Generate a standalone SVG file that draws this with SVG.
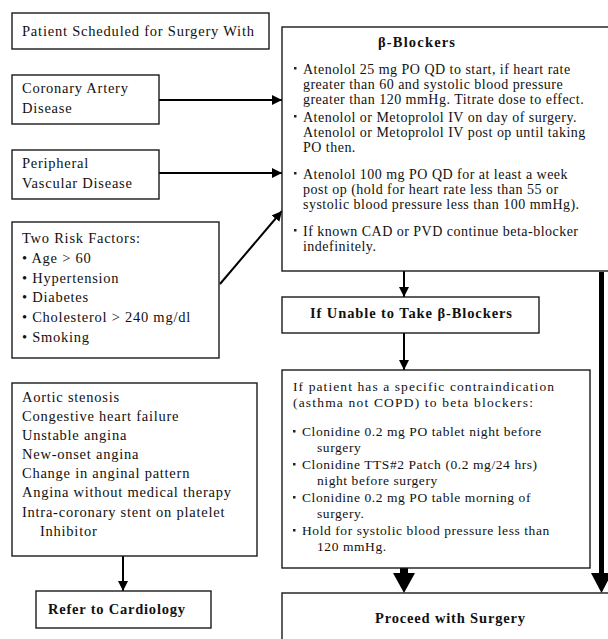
<svg xmlns="http://www.w3.org/2000/svg" width="608" height="639" viewBox="0 0 608 639">
<defs>
<style>
.box{fill:#fff;stroke:#1a1a1a;stroke-width:1.4}
.t{font-family:"Liberation Serif","Times New Roman",serif;font-size:14.5px;letter-spacing:0.75px;fill:#111}
.s{font-family:"Liberation Serif","Times New Roman",serif;font-size:14px;letter-spacing:0.48px;fill:#111}
.c{font-family:"Liberation Serif","Times New Roman",serif;font-size:13.5px;letter-spacing:0.58px;fill:#111}
.b{font-family:"Liberation Serif","Times New Roman",serif;font-size:14.5px;font-weight:bold;fill:#111}
.ln{stroke:#000;stroke-width:2;fill:none}
.sq{fill:#222}
</style>
<marker id="ah" viewBox="0 0 10 10" refX="10" refY="5" markerWidth="10" markerHeight="10" markerUnits="userSpaceOnUse" orient="auto">
<path d="M0,0 L10,5 L0,10 z" fill="#000"/>
</marker>
</defs>

<g id="connectors">
<line class="ln" x1="159" y1="100" x2="282" y2="100" marker-end="url(#ah)"/>
<line class="ln" x1="159" y1="173" x2="282" y2="173" marker-end="url(#ah)"/>
<line class="ln" x1="220" y1="284" x2="282" y2="211" marker-end="url(#ah)"/>
<line class="ln" x1="123" y1="556" x2="123" y2="591" marker-end="url(#ah)"/>
<line class="ln" x1="404" y1="271" x2="404" y2="297" marker-end="url(#ah)"/>
<line class="ln" x1="404" y1="333" x2="404" y2="370" marker-end="url(#ah)"/>
<rect x="400" y="568" width="8" height="6" fill="#000"/>
<polygon points="393,573 415,573 404,593" fill="#000"/>
<rect x="599" y="272" width="5" height="302" fill="#000"/>
<polygon points="591,573 612,573 601.5,593" fill="#000"/>
</g>

<g id="patient">
<rect class="box" x="12" y="13" width="257" height="36"/>
<text class="t" x="22" y="36" textLength="232" lengthAdjust="spacing" style="letter-spacing:0">Patient Scheduled for Surgery With</text>
</g>

<g id="cad">
<rect class="box" x="12" y="75" width="147" height="49"/>
<text class="t" x="22" y="93">Coronary Artery</text>
<text class="t" x="22" y="113">Disease</text>
</g>

<g id="pvd">
<rect class="box" x="12" y="150" width="147" height="49"/>
<text class="t" x="22" y="168">Peripheral</text>
<text class="t" x="22" y="188">Vascular Disease</text>
</g>

<g id="risk">
<rect class="box" x="12" y="222" width="207" height="136"/>
<text class="t" x="22" y="243">Two Risk Factors:</text>
<text class="t" x="22" y="263">• Age &gt; 60</text>
<text class="t" x="22" y="283">• Hypertension</text>
<text class="t" x="22" y="302">• Diabetes</text>
<text class="t" x="22" y="322">• Cholesterol &gt; 240 mg/dl</text>
<text class="t" x="22" y="342">• Smoking</text>
</g>

<g id="aortic">
<rect class="box" x="12" y="383" width="245" height="173"/>
<text class="t" x="22" y="402">Aortic stenosis</text>
<text class="t" x="22" y="421">Congestive heart failure</text>
<text class="t" x="22" y="440">Unstable angina</text>
<text class="t" x="22" y="459">New-onset angina</text>
<text class="t" x="22" y="478">Change in anginal pattern</text>
<text class="t" x="22" y="497">Angina without medical therapy</text>
<text class="t" x="22" y="517">Intra-coronary stent on platelet</text>
<text class="t" x="40" y="536">Inhibitor</text>
</g>

<g id="refer">
<rect class="box" x="36" y="591" width="175" height="37"/>
<text class="b" x="48" y="614" textLength="137" lengthAdjust="spacing">Refer to Cardiology</text>
</g>

<g id="bblockers">
<rect class="box" x="282" y="27" width="340" height="244"/>
<text class="b" x="378" y="47" textLength="77" lengthAdjust="spacing">β-Blockers</text>
<rect class="sq" x="294" y="67" width="2.5" height="2.5"/>
<text class="s" x="303" y="74">Atenolol 25 mg PO QD to start, if heart rate</text>
<text class="s" x="303" y="89">greater than 60 and systolic blood pressure</text>
<text class="s" x="303" y="104">greater than 120 mmHg. Titrate dose to effect.</text>
<rect class="sq" x="294" y="115" width="2.5" height="2.5"/>
<text class="s" x="303" y="122">Atenolol or Metoprolol IV on day of surgery.</text>
<text class="s" x="303" y="137">Atenolol or Metoprolol IV post op until taking</text>
<text class="s" x="303" y="152">PO then.</text>
<rect class="sq" x="294" y="172" width="2.5" height="2.5"/>
<text class="s" x="303" y="179">Atenolol 100 mg PO QD for at least a week</text>
<text class="s" x="303" y="194">post op (hold for heart rate less than 55 or</text>
<text class="s" x="303" y="209">systolic blood pressure less than 100 mmHg).</text>
<rect class="sq" x="294" y="229" width="2.5" height="2.5"/>
<text class="s" x="303" y="236">If known CAD or PVD continue beta-blocker</text>
<text class="s" x="303" y="251">indefinitely.</text>
</g>

<g id="unable">
<rect class="box" x="282" y="297" width="257" height="36"/>
<text class="b" x="310" y="318" textLength="202" lengthAdjust="spacing">If Unable to Take β-Blockers</text>
</g>

<g id="contra">
<rect class="box" x="282" y="370" width="308" height="198"/>
<text class="c" x="293" y="391" textLength="261" lengthAdjust="spacing" style="letter-spacing:0">If patient has a specific contraindication</text>
<text class="c" x="293" y="407" textLength="240" lengthAdjust="spacing" style="letter-spacing:0">(asthma not COPD) to beta blockers:</text>
<rect class="sq" x="293" y="430" width="2.5" height="2.5"/>
<text class="c" x="302" y="436">Clonidine 0.2 mg PO tablet night before</text>
<text class="c" x="317" y="452">surgery</text>
<rect class="sq" x="293" y="463" width="2.5" height="2.5"/>
<text class="c" x="302" y="469">Clonidine TTS#2 Patch (0.2 mg/24 hrs)</text>
<text class="c" x="317" y="485">night before surgery</text>
<rect class="sq" x="293" y="496" width="2.5" height="2.5"/>
<text class="c" x="302" y="502">Clonidine 0.2 mg PO table morning of</text>
<text class="c" x="317" y="518">surgery.</text>
<rect class="sq" x="293" y="529" width="2.5" height="2.5"/>
<text class="c" x="302" y="535">Hold for systolic blood pressure less than</text>
<text class="c" x="317" y="551">120 mmHg.</text>
</g>

<g id="proceed">
<rect class="box" x="282" y="593" width="340" height="60"/>
<text class="b" x="375" y="623" textLength="150" lengthAdjust="spacing">Proceed with Surgery</text>
</g>
</svg>
